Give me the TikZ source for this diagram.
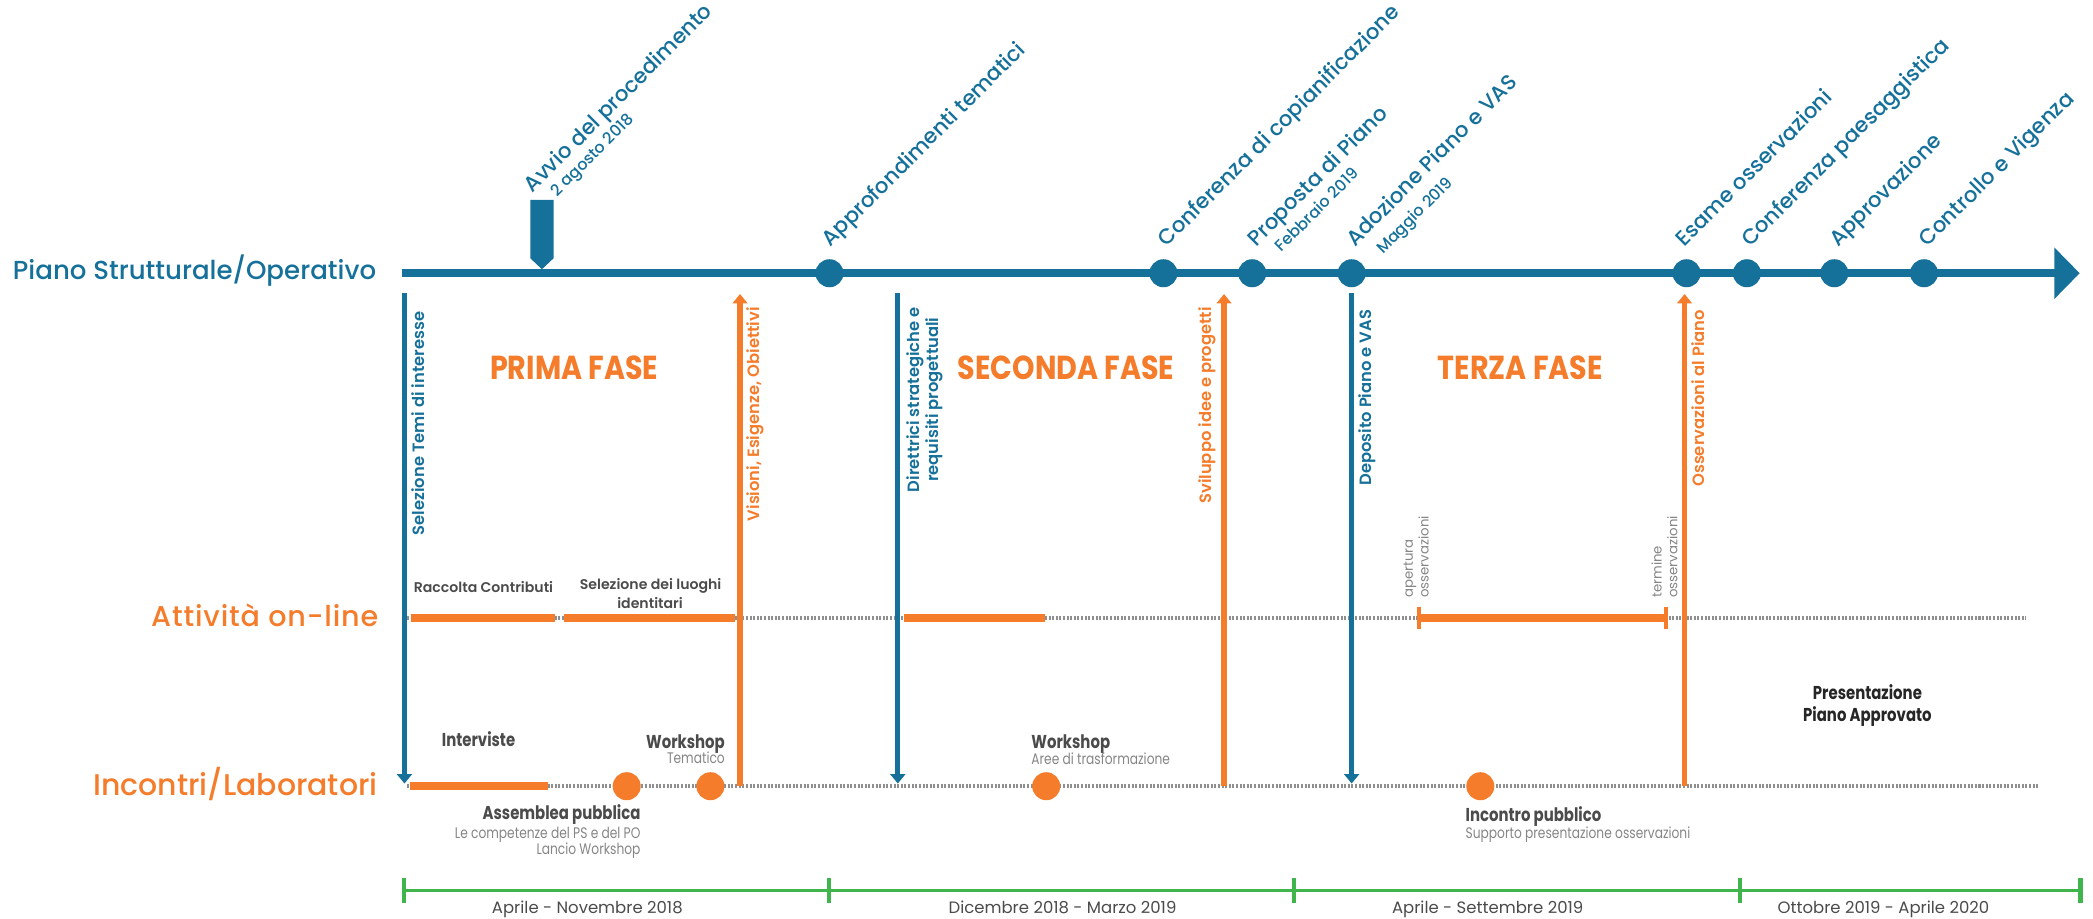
\documentclass[tikz,border=0pt]{standalone}
\usepackage{fontspec}
\setmainfont{Poppins}
\newfontfamily\cg{Poppins}
\newfontfamily\cgm{Poppins Medium}
\newfontfamily\cgs{Poppins SemiBold}
\newfontfamily\tw{Poppins}[FakeStretch=0.8]
\newfontfamily\twp{Poppins}[FakeStretch=0.86]
\usetikzlibrary{arrows.meta}
\definecolor{pblue}{HTML}{15709A}
\definecolor{porange}{HTML}{F47C2B}
\definecolor{pgreen}{HTML}{3FB54B}
\definecolor{pgray}{HTML}{4B4B4B}
\definecolor{plgray}{HTML}{858585}
\definecolor{pdots}{HTML}{8F8F8F}
\definecolor{pdark}{HTML}{262626}
\newcommand\myfs[2]{\fontsize{#1}{#2}\selectfont}
\begin{document}
\begin{tikzpicture}[x=1bp,y=-1bp,
  mil/.style={rotate=45, anchor=base west, inner sep=0pt, text=pblue, font=\cgm\myfs{16}{16}},
  milsub/.style={mil, font=\cgm\myfs{12}{12}},
  vlab/.style={rotate=90, anchor=east, inner sep=0pt, align=center, font=\cgs\myfs{12.3}{14.4}},
  phase/.style={anchor=base west, inner sep=0pt, text=porange, font=\twp\bfseries\myfs{25}{25}},
  rowlab/.style={anchor=base east, inner sep=0pt},
  gbold/.style={inner sep=0pt, text=pgray, font=\cgs\myfs{10.6}{10.6}},
  ibold/.style={inner sep=0pt, text=pgray, font=\tw\bfseries\myfs{14}{14}},
  ilight/.style={inner sep=0pt, text=plgray, font=\tw\myfs{11.5}{11.5}},
  obsl/.style={rotate=90, anchor=west, inner sep=0pt, align=left, text=plgray, font=\cg\myfs{10}{11.8}},
  datel/.style={anchor=base, inner sep=0pt, text=pgray, font=\cg\myfs{12.4}{12.4}},
  bdot/.style={circle, fill=pblue, minimum size=21bp, inner sep=0pt},
  odot/.style={circle, fill=porange, minimum size=21bp, inner sep=0pt},
  bline/.style={draw=pblue, line width=4bp, -{Triangle[length=7bp,width=11bp]}},
  oline/.style={draw=porange, line width=4bp, -{Triangle[length=7bp,width=11bp]}},
  oseg/.style={draw=porange, line width=6bp},
  otick/.style={draw=porange, line width=3.5bp},
  dotline/.style={draw=pdots, line width=3bp, dash pattern=on 1.5bp off 1.2bp},
  gline/.style={draw=pgreen, line width=2.5bp},
  gtick/.style={draw=pgreen, line width=3.5bp}
]
\useasboundingbox (0,0) rectangle (1568,688);

% ---------- dotted guide lines ----------
\coordinate (onL) at (305,462.7);
\coordinate (onR) at (1518,462.7);
\coordinate (inL) at (305,588.7);
\coordinate (inR) at (1528,588.7);
\draw[dotline] (onL) -- (onR);
\draw[dotline] (inL) -- (inR);

% ---------- main axis ----------
\coordinate (axL) at (301,204.7);
\coordinate (axR) at (1558,204.7);
\draw[draw=pblue, line width=6bp, -{Triangle[length=19bp,width=37.5bp]}] (axL) -- (axR);
\fill[pblue] (397.3,149.8) -- (414.7,149.8) -- (414.7,193.5) -- (406,201.7) -- (397.3,193.5) -- cycle;

\node[bdot] (m2) at (621.4,204.7) {};
\node[bdot] (m3) at (871.6,204.7) {};
\node[bdot] (m4) at (938.1,204.7) {};
\node[bdot] (m5) at (1012.6,204.7) {};
\node[bdot] (m6) at (1263.5,204.7) {};
\node[bdot] (m7) at (1308.7,204.7) {};
\node[bdot] (m8) at (1374.2,204.7) {};
\node[bdot] (m9) at (1441.4,204.7) {};

% ---------- milestone labels ----------
\node[mil] (l1) at (399,145) {Avvio del procedimento};
\node[milsub] (l1s) at ([shift={(18.5,3)}]l1.base west) {2 agosto 2018};
\node[mil] (l2) at (622,185.5) {Approfondimenti tematici};
\node[mil] (l3) at (874,185.5) {Conferenza di copianificazione};
\node[mil] (l4) at (941,185.5) {Proposta di Piano};
\node[milsub] (l4s) at ([shift={(19,4)}]l4.base west) {Febbraio 2019};
\node[mil] (l5) at (1015,185.5) {Adozione Piano e VAS};
\node[milsub] (l5s) at ([shift={(21,5.5)}]l5.base west) {Maggio 2019};
\node[mil] (l6) at (1262,185.5) {Esame osservazioni};
\node[mil] (l7) at (1311,185.5) {Conferenza paesaggistica};
\node[mil] (l8) at (1377,185.5) {Approvazione};
\node[mil] (l9) at (1444,185.5) {Controllo e Vigenza};

% ---------- row labels ----------
\node[rowlab, text=pblue, font=\cgm\myfs{19.6}{20}] (r1) at (282,209.5) {Piano Strutturale/Operativo};
\node[rowlab, text=porange, font=\cgm\myfs{21.5}{22}\addfontfeatures{LetterSpace=3}] (r2) at (283.6,469.4) {Attività on-line};
\node[rowlab, text=porange, font=\cgm\myfs{22.5}{23}] (r3) at (283,596) {Incontri/Laboratori};

% ---------- phase titles ----------
\node[phase] (f1) at (367,284.6) {PRIMA FASE};
\node[phase] (f2) at (717.3,284.6) {SECONDA FASE};
\node[phase] (f3) at (1077,284.6) {TERZA FASE};

% ---------- vertical arrows ----------
\coordinate (a1t) at (303,219.7);  \coordinate (a1b) at (303,587);
\coordinate (a2t) at (672.6,219.7); \coordinate (a2b) at (672.6,587);
\coordinate (a3t) at (1012.6,219.7); \coordinate (a3b) at (1012.6,587);
\coordinate (o1b) at (554.4,588.5); \coordinate (o1t) at (554.4,220.3);
\coordinate (o2b) at (917,588.5); \coordinate (o2t) at (917,220.3);
\coordinate (o3b) at (1262,588.5); \coordinate (o3t) at (1262,220.3);
\draw[bline] (a1t) -- (a1b);
\draw[bline] (a2t) -- (a2b);
\draw[bline] (a3t) -- (a3b);
\draw[oline] (o1b) -- (o1t);
\draw[oline] (o2b) -- (o2t);
\draw[oline] (o3b) -- (o3t);

\node[vlab, text=pblue] (t1) at (313.4,233.4) {Selezione Temi di interesse};
\node[vlab, text=porange] (t2) at (566,230) {Visioni, Esigenze, Obiettivi};
\node[vlab, text=pblue] (t3) at (692.7,230) {Direttrici strategiche e\\requisiti progettuali};
\node[vlab, text=porange] (t4) at (904.6,230) {Sviluppo idee e progetti};
\node[vlab, text=pblue] (t5) at (1024,232) {Deposito Piano e VAS};
\node[vlab, text=porange] (t6) at (1272,232) {Osservazioni al Piano};

% ---------- on-line activities ----------
\coordinate (s1a) at (307.9,463); \coordinate (s1b) at (415.8,463);
\coordinate (s2a) at (422.5,463); \coordinate (s2b) at (551,463);
\coordinate (s3a) at (677,463);   \coordinate (s3b) at (783,463);
\coordinate (s4a) at (1063,463);  \coordinate (s4b) at (1248,463);
\draw[oseg] (s1a) -- (s1b);
\draw[oseg] (s2a) -- (s2b);
\draw[oseg] (s3a) -- (s3b);
\draw[oseg] (s4a) -- (s4b);
\draw[otick] ([yshift=-8.5bp]s4a) -- ([yshift=8.5bp]s4a);
\draw[otick] ([yshift=-8.5bp]s4b) -- ([yshift=8.5bp]s4b);

\node[gbold, anchor=base] (g1) at (362.2,444) {Raccolta Contributi};
\node[gbold, anchor=base] (g2) at (487.4,442) {Selezione dei luoghi};
\node[gbold, anchor=base] (g3) at (487,455.7) {identitari};
\node[obsl] (ob1) at (1061,448) {apertura\\osservazioni};
\node[obsl] (ob2) at (1247,448) {termine\\osservazioni};

% ---------- meetings ----------
\coordinate (i1a) at (307.4,589); \coordinate (i1b) at (410.4,589);
\draw[oseg] (i1a) -- (i1b);
\node[odot] (e1) at (469.5,589) {};
\node[odot] (e2) at (532.2,589) {};
\node[odot] (e3) at (783.8,589) {};
\node[odot] (e4) at (1109,589) {};

\node[ibold, anchor=base] (w1) at (358.5,559.3) {Interviste};
\node[ibold, anchor=base east] (w2) at (543.2,560.5) {Workshop};
\node[ilight, anchor=base east] (w2s) at (543.2,571.8) {Tematico};
\node[ibold, anchor=base east] (w3) at (480,614.2) {Assemblea pubblica};
\node[ilight, anchor=base east] (w3s) at (480,628) {Le competenze del PS e del PO};
\node[ilight, anchor=base east] (w3t) at (480,640.4) {Lancio Workshop};
\node[ibold, anchor=base west] (w4) at (772.5,560.5) {Workshop};
\node[ilight, anchor=base west] (w4s) at (772.5,573) {Aree di trasformazione};
\node[ibold, anchor=base west] (w5) at (1097.8,615.5) {Incontro pubblico};
\node[ilight, anchor=base west] (w5s) at (1097.8,628) {Supporto presentazione osservazioni};
\node[ibold, anchor=base, text=pdark] (w6) at (1399,524.3) {Presentazione};
\node[ibold, anchor=base, text=pdark] (w6s) at (1399,540.5) {Piano Approvato};

% ---------- time scale ----------
\coordinate (k0) at (302.7,667.1);
\coordinate (k1) at (621.1,667.1);
\coordinate (k2) at (969.4,667.1);
\coordinate (k3) at (1303.6,667.1);
\coordinate (k4) at (1558.4,667.1);
\draw[gline] (k0) -- (k4);
\foreach \k in {k0,k1,k2,k3,k4}
  \draw[gtick] ([yshift=-9.3bp]\k) -- ([yshift=9.3bp]\k);
\node[datel] (p1) at (440,684.5) {Aprile - Novembre 2018};
\node[datel] (p2) at (796,684.5) {Dicembre 2018 - Marzo 2019};
\node[datel] (p3) at (1114.5,684.5) {Aprile - Settembre 2019};
\node[datel] (p4) at (1411,684.5) {Ottobre 2019 - Aprile 2020};
\end{tikzpicture}
\end{document}
